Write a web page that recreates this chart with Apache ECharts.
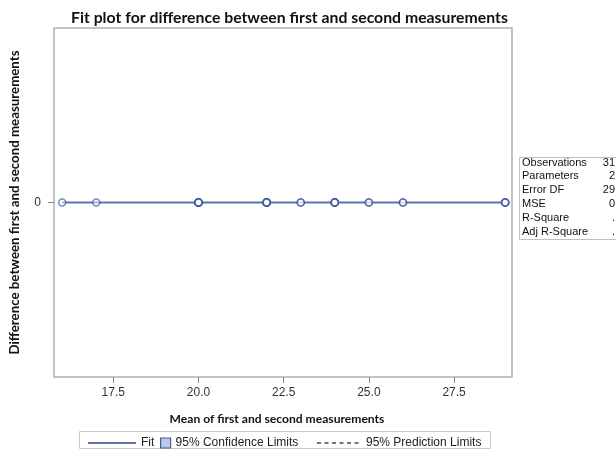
<!DOCTYPE html>
<html>
<head>
<meta charset="utf-8">
<script src="https://cdn.jsdelivr.net/npm/echarts@6/dist/echarts.min.js"></script>
<style>
  html, body { margin: 0; padding: 0; background: #fff; }
  #chart { width: 616px; height: 450px; }
</style>
</head>
<body>
<div id="chart"></div>
<script>
// observed means and differences (31 obs, many overlap)
const obsMean = [16, 17, 20, 20, 20, 20, 20, 20, 22, 22, 22, 22, 22, 22, 22,
  23, 23, 24, 24, 24, 24, 24, 24, 25, 25, 26, 26, 29, 29, 29, 29]
const obsDiff = [0, 0, 0, 0, 0, 0, 0, 0, 0, 0, 0, 0, 0, 0, 0,
  0, 0, 0, 0, 0, 0, 0, 0, 0, 0, 0, 0, 0, 0, 0, 0]
const fitX = [16, 29]
const fitY = [0, 0]
const confUpper = [0, 0]
const predUpper = [0, 0]
const xTicks = [17.5, 20, 22.5, 25, 27.5]
const yTicks = [0]
const statLabels = ['Observations', 'Parameters', 'Error DF', 'MSE', 'R-Square', 'Adj R-Square']
const statValues = ['31', '2', '29', '0', '.', '.']

const font = '"Liberation Sans", Arial, sans-serif'
const boldFont = 'Lato, "Open Sans", sans-serif'

const chart = echarts.init(document.getElementById('chart'))

const statTexts = []
statLabels.forEach((lab, i) => {
  statTexts.push({
    type: 'text', left: 522, top: 157 + i * 13.8,
    style: { text: lab, font: '11px ' + font, fill: '#111' }
  })
  statTexts.push({
    type: 'text', right: 1, top: 157 + i * 13.8,
    style: { text: statValues[i], font: '11px ' + font, fill: '#111', textAlign: 'right' }
  })
})

chart.setOption({
  animation: false,
  title: {
    text: 'Fit plot for difference between first and second measurements',
    left: 66, top: 5,
    textStyle: { fontFamily: boldFont, fontWeight: 'bold', fontSize: 15.8, color: '#111' }
  },
  grid: {
    left: 54, right: 104, top: 28, bottom: 73,
    outerBoundsMode: 'none',
    show: true, borderColor: '#b0b0b0', borderWidth: 1.5
  },
  xAxis: {
    type: 'value', min: 15.76, max: 29.2,
    name: 'Mean of first and second measurements',
    nameLocation: 'middle', nameGap: 36,
    nameTextStyle: { fontFamily: boldFont, fontWeight: 'bold', fontSize: 12.1, color: '#111', padding: [0, 12, 0, 0] },
    axisLine: { show: false, onZero: false },
    splitLine: { show: false },
    axisTick: { show: true, length: 6, customValues: xTicks, lineStyle: { color: '#888' } },
    axisLabel: {
      customValues: xTicks, margin: 10,
      formatter: v => Number(v).toFixed(1),
      fontFamily: font, fontSize: 12, color: '#333'
    }
  },
  yAxis: {
    type: 'value', min: -1, max: 1,
    name: 'Difference between first and second measurements',
    nameLocation: 'middle', nameGap: 33, nameRotate: 90,
    nameTextStyle: { fontFamily: boldFont, fontWeight: 'bold', fontSize: 13.3, color: '#111' },
    axisLine: { show: false, onZero: false },
    splitLine: { show: false },
    axisTick: { show: true, length: 6, customValues: yTicks, lineStyle: { color: '#888' } },
    axisLabel: {
      customValues: yTicks, margin: 13,
      fontFamily: font, fontSize: 12, color: '#333'
    }
  },
  legend: [
    {
      left: 82, top: 432, itemWidth: 48, itemHeight: 10,
      textStyle: { fontFamily: font, fontSize: 12, color: '#222' },
      data: [{ name: 'Fit', itemStyle: { opacity: 0 } }]
    },
    {
      left: 155, top: 432, itemWidth: 10, itemHeight: 10,
      textStyle: { fontFamily: font, fontSize: 12, color: '#222' },
      data: [{ name: '95% Confidence Limits', icon: 'rect',
        itemStyle: { color: '#b9cbe6', borderColor: '#4a5f88', borderWidth: 1.2 } }]
    },
    {
      left: 311, top: 432, itemWidth: 44, itemHeight: 10,
      textStyle: { fontFamily: font, fontSize: 12, color: '#222' },
      data: [{ name: '95% Prediction Limits', itemStyle: { opacity: 0 } }]
    }
  ],
  graphic: [
    {
      type: 'rect', left: 77, top: 429,
      shape: { width: 411, height: 17 },
      style: { fill: 'none', stroke: '#c8c8c8', lineWidth: 1 }
    },
    {
      type: 'rect', left: 517, top: 155,
      shape: { width: 110, height: 82 },
      style: { fill: 'none', stroke: '#c0c0c0', lineWidth: 1 }
    }
  ].concat(statTexts),
  series: [
    {
      name: '95% Confidence Limits', type: 'line', z: 1,
      data: fitX.map((x, i) => [x, confUpper[i]]),
      symbol: 'none', lineStyle: { width: 0, opacity: 0 },
      itemStyle: { color: '#b9cbe6' }
    },
    {
      name: '95% Prediction Limits', type: 'line', z: 1,
      data: fitX.map((x, i) => [x, predUpper[i]]),
      symbol: 'none',
      itemStyle: { color: '#777' },
      lineStyle: { color: '#777', width: 1, type: [4, 3.5] }
    },
    {
      name: 'Fit', type: 'line', z: 2,
      data: fitX.map((x, i) => [x, fitY[i]]),
      symbol: 'none',
      itemStyle: { color: '#5d76a8' },
      lineStyle: { color: '#5d76a8', width: 2 }
    },
    {
      name: 'Obs', type: 'scatter', z: 3,
      data: obsMean.map((x, i) => [x, obsDiff[i]]),
      symbol: 'circle', symbolSize: 7,
      itemStyle: { color: 'rgba(255,255,255,0.6)', borderColor: 'rgba(45,75,150,0.8)', borderWidth: 1.6 }
    }
  ]
})
</script>
</body>
</html>
